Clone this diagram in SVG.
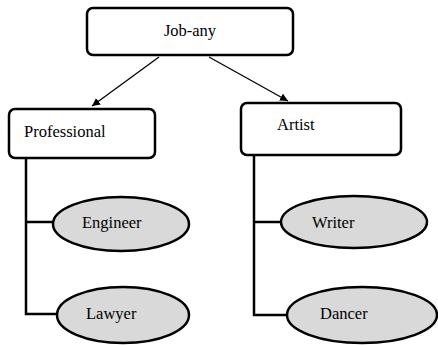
<svg xmlns="http://www.w3.org/2000/svg" width="438" height="345" viewBox="0 0 438 345">
<style>
.box{fill:#fff;stroke:#000;stroke-width:2.5}
.ell{fill:#d9d9d9;stroke:#000;stroke-width:2.5}
text{font-family:'Liberation Serif','Times New Roman',serif;font-size:16.5px;fill:#000}
.tree{fill:none;stroke:#000;stroke-width:2.5}
.arr{fill:none;stroke:#000;stroke-width:1.3}
</style>
<defs>
<marker id="ah" viewBox="0 0 10 10" refX="10" refY="5" markerWidth="8" markerHeight="8" markerUnits="userSpaceOnUse" orient="auto">
<path d="M0,0 L10,5 L0,10 Z" fill="#000"/>
</marker>
</defs>
<g id="connectors">
<line class="arr" x1="159" y1="57" x2="92" y2="106" marker-end="url(#ah)"/>
<line class="arr" x1="209" y1="57" x2="288" y2="101" marker-end="url(#ah)"/>
<polyline class="tree" points="26,158 26,314 57,314"/>
<line class="tree" x1="26" y1="222" x2="53" y2="222"/>
<polyline class="tree" points="254,155 254,315 287,315"/>
<line class="tree" x1="254" y1="222" x2="281" y2="222"/>
</g>
<g id="job-any">
<rect class="box" x="87" y="8" width="206" height="47" rx="6"/>
<text x="190" y="36" text-anchor="middle">Job-any</text>
</g>
<g id="professional">
<rect class="box" x="9" y="109" width="146" height="49" rx="6"/>
<text x="24" y="137">Professional</text>
</g>
<g id="artist">
<rect class="box" x="241" y="103" width="160" height="52" rx="6"/>
<text x="277" y="130">Artist</text>
</g>
<g id="engineer">
<ellipse class="ell" cx="121" cy="224" rx="68" ry="27"/>
<text x="82" y="228">Engineer</text>
</g>
<g id="lawyer">
<ellipse class="ell" cx="123" cy="315" rx="66" ry="28"/>
<text x="86" y="319">Lawyer</text>
</g>
<g id="writer">
<ellipse class="ell" cx="354" cy="222" rx="73" ry="26"/>
<text x="312" y="228">Writer</text>
</g>
<g id="dancer">
<ellipse class="ell" cx="362" cy="315" rx="75" ry="28"/>
<text x="320" y="319">Dancer</text>
</g>
</svg>
